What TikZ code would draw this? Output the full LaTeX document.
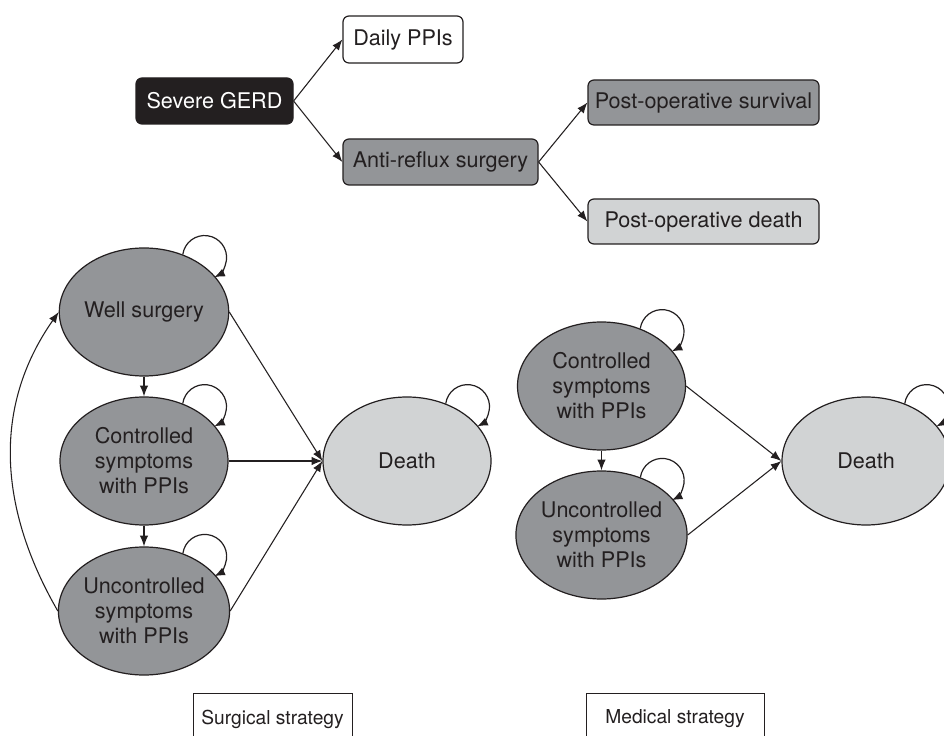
\documentclass[tikz,border=0pt]{standalone}
\usepackage{fontspec}
\setmainfont{TeX Gyre Heros}
\usetikzlibrary{arrows.meta,shapes.geometric}
\definecolor{ink}{HTML}{231F20}
\definecolor{midgray}{HTML}{939598}
\definecolor{palegray}{HTML}{D1D3D4}
\begin{document}
\begin{tikzpicture}[x=0.75pt,y=0.75pt,
  every node/.style={text=ink, font=\fontsize{16.2}{18.8}\selectfont},
  box/.style={draw=ink, line width=0.9pt, rounded corners=4.5pt, minimum height=34.5pt, inner sep=0pt},
  state/.style={ellipse, draw=ink, line width=0.9pt, minimum width=126pt, minimum height=96pt, inner sep=0pt, align=center},
  arr/.style={draw=ink, line width=0.8pt, -{Latex[length=8pt,width=6.2pt]}},
  selfarc/.style={arr, line width=0.9pt},
  label box/.style={draw=ink, line width=0.6pt, inner sep=0pt, font=\fontsize{14.4}{17}\selectfont, minimum height=39pt}
]
\useasboundingbox (0,0) rectangle (944,735);
\fill[white] (0,0) rectangle (944,735);

% decision tree
\node[box, fill=ink, text=white, minimum width=117.75pt] (gerd) at (214.5,634) {Severe GERD};
\node[box, fill=white, minimum width=90pt, minimum height=35.25pt] (daily) at (403,695.5) {Daily PPIs};
\node[box, fill=midgray, minimum width=146.25pt] (anti) at (440.5,573) {Anti-reflux surgery};
\node[box, fill=midgray, minimum width=173.25pt, minimum height=33.75pt] (surv) at (703.5,632.5) {Post-operative survival};
\node[box, fill=palegray, minimum width=173.25pt, minimum height=33.75pt] (pdeath) at (703.5,513.5) {Post-operative death};

\draw[arr] (gerd.east) -- (daily.west);
\draw[arr] (gerd.east) -- (anti.west);
\draw[arr] (anti.east) -- (surv.west);
\draw[arr] (anti.east) -- (pdeath.west);

% surgical strategy
\node[state, fill=midgray] (w) at (144,423) {Well surgery};
\node[state, fill=midgray] (c) at (144,274) {Controlled\\symptoms\\with PPIs};
\node[state, fill=midgray] (u) at (144,124) {Uncontrolled\\symptoms\\with PPIs};
\node[state, fill=palegray] (d) at (407,274) {Death};

\draw[arr] (w.south) -- (c.north);
\draw[arr] (c.south) -- (u.north);
\draw[arr] (w.east) -- (d.west);
\draw[arr] (c.east) -- (d.west);
\draw[arr] (u.east) -- (d.west);
\draw[arr] (u.west) to[out=120,in=235,looseness=1] (w.west);

\foreach \n in {w,c,u,d}{
  \draw[selfarc] (\n.56) arc[start angle=172, end angle=-64, radius=16.5pt];
}

% medical strategy
\node[state, fill=midgray] (c2) at (601.5,349) {Controlled\\symptoms\\with PPIs};
\node[state, fill=midgray] (u2) at (601.5,200) {Uncontrolled\\symptoms\\with PPIs};
\node[state, fill=palegray] (d2) at (866,274) {Death};

\draw[arr] (c2.south) -- (u2.north);
\draw[arr] (c2.east) -- (d2.west);
\draw[arr] (u2.east) -- (d2.west);

\foreach \n in {c2,u2,d2}{
  \draw[selfarc] (\n.56) arc[start angle=172, end angle=-64, radius=16.5pt];
}

% strategy labels
\node[label box, minimum width=119.25pt] (surgical) at (272.5,16) {Surgical strategy};
\node[label box, minimum width=133.5pt] (medical) at (675,16) {Medical strategy};
\end{tikzpicture}
\end{document}
